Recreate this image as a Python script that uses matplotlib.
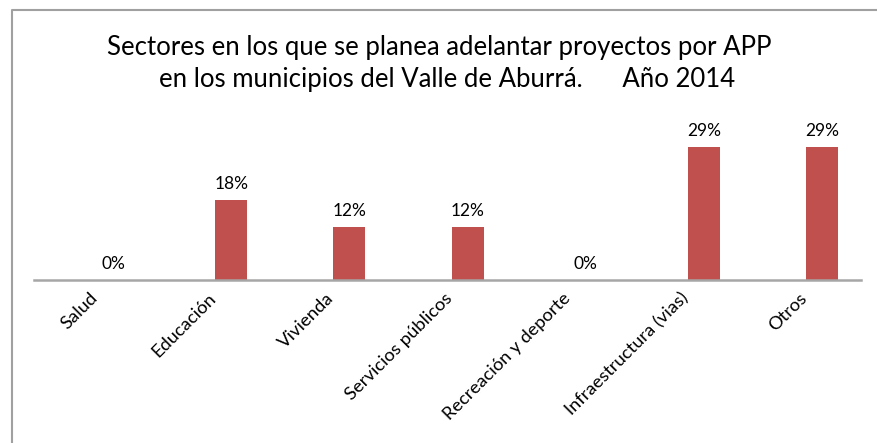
import numpy as np
import matplotlib.pyplot as plt
from matplotlib.lines import Line2D

plt.rcParams['font.family'] = ['Lato', 'DejaVu Sans']

SECTORS = ['Salud', 'Educación', 'Vivienda', 'Servicios públicos',
           'Recreación y deporte', 'Infraestructura (vias)', 'Otros']
SHARE = [0.0, 17.6, 11.8, 11.8, 0.0, 29.4, 29.4]  # percent of projects

W, H = 877, 443
fig = plt.figure(figsize=(W / 100, H / 100), dpi=100)

# plot area in pixels: x 34..861, y 110..280
ax = fig.add_axes([34 / W, 1 - 280 / H, (861 - 34) / W, (280 - 110) / H])

x = np.arange(len(SECTORS))
bars = ax.bar(x + 0.17, SHARE, width=0.27, color='#C0504D', zorder=2)
for b, v in zip(bars, SHARE):
    ax.text(b.get_x() + b.get_width() / 2, v + 1.8, f'{v:.0f}%',
            ha='center', va='bottom', fontsize=12.5)

ax.set_xlim(-0.5, len(SECTORS) - 0.5)
ax.set_ylim(0, 170 / 4.52)
ax.set_yticks([])
ax.set_xticks(x - 0.03)
ax.set_xticklabels(SECTORS, rotation=45, ha='right', va='top',
                   rotation_mode='anchor', fontsize=13.2)
ax.tick_params(axis='x', length=0, pad=7)
for s in ['top', 'right', 'left']:
    ax.spines[s].set_visible(False)
ax.spines['bottom'].set_color('#A6A6A6')
ax.spines['bottom'].set_linewidth(1.8)

fig.text(439 / W, 1 - 48 / H, 'Sectores en los que se planea adelantar proyectos por APP',
         ha='center', va='center', fontsize=18.5)
fig.text(447 / W, 1 - 80 / H, 'en los municipios del Valle de Aburrá.      Año 2014',
         ha='center', va='center', fontsize=18.5)

# chart frame (only left and top edges are visible)
fig.add_artist(Line2D([12 / W, 12 / W, 1.0], [0.0, 1 - 10 / H, 1 - 10 / H],
                      transform=fig.transFigure, color='#A0A0A0', lw=1.5))

fig.savefig('out.png', dpi=100)
